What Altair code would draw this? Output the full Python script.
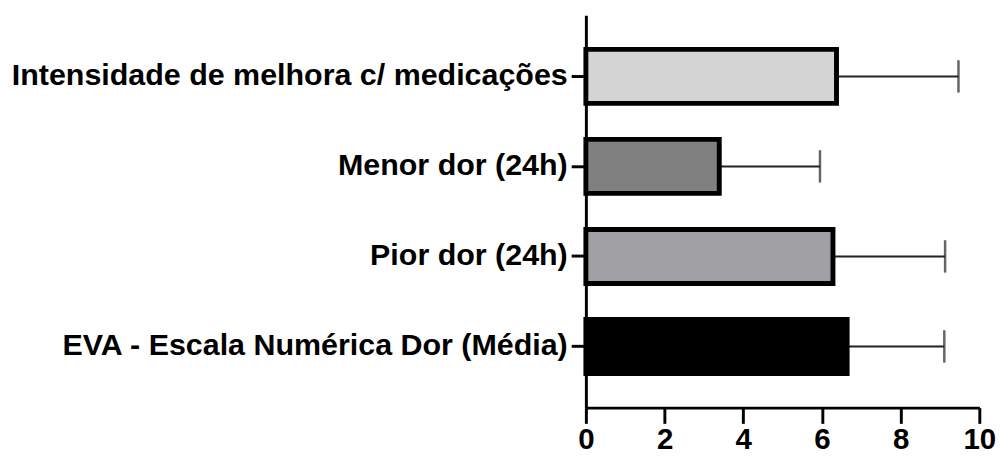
import altair as alt
import pandas as pd

categories = [
    "Intensidade de melhora c/ medicações",
    "Menor dor (24h)",
    "Pior dor (24h)",
    "EVA - Escala Numérica Dor (Média)",
]
means = [6.37, 3.39, 6.28, 6.64]
err_hi = [9.47, 5.95, 9.13, 9.11]
fills = ["#d4d4d4", "#808080", "#a1a1a5", "#000000"]
x_ticks = [0, 2, 4, 6, 8, 10]

df = pd.DataFrame({"cat": categories, "mean": means, "hi": err_hi})

FONT = "Liberation Sans"

y_enc = alt.Y(
    "cat:N",
    sort=categories,
    scale=alt.Scale(paddingInner=0.4, paddingOuter=0.38),
    axis=alt.Axis(
        title=None,
        labelFont=FONT,
        labelFontSize=31,
        labelFontWeight="bold",
        labelColor="black",
        labelPadding=4,
        tickSize=15,
        tickWidth=3,
        tickColor="black",
        domainWidth=3,
        domainColor="black",
        labelLimit=800,
    ),
)
x_enc = alt.X(
    "mean:Q",
    scale=alt.Scale(domain=[0, 10], nice=False),
    axis=alt.Axis(
        title=None,
        values=x_ticks,
        labelFont=FONT,
        labelFontSize=30,
        labelFontWeight="bold",
        labelColor="black",
        labelPadding=2,
        tickSize=16,
        tickWidth=3,
        tickColor="black",
        domainWidth=3,
        domainColor="black",
        grid=False,
        labelFlush=False,
    ),
)

err = alt.Chart(df).mark_rule(color="#222222", strokeWidth=2).encode(
    y=y_enc, x=x_enc, x2="hi:Q"
)
cap = alt.Chart(df).mark_tick(color="#222222", thickness=2.5, size=33).encode(
    y=y_enc, x=alt.X("hi:Q")
)
bars = alt.Chart(df).mark_bar(stroke="black", strokeWidth=5).encode(
    y=y_enc,
    x=x_enc,
    color=alt.Color("cat:N", scale=alt.Scale(domain=categories, range=fills), legend=None),
)

chart = (
    alt.layer(err, cap, bars)
    .properties(width=401, height=400, padding={"left": 3, "top": 3, "right": 0, "bottom": 0})
    .configure_view(stroke=None)
)

chart.save("out.html", embed_options={"renderer": "svg", "actions": False})
